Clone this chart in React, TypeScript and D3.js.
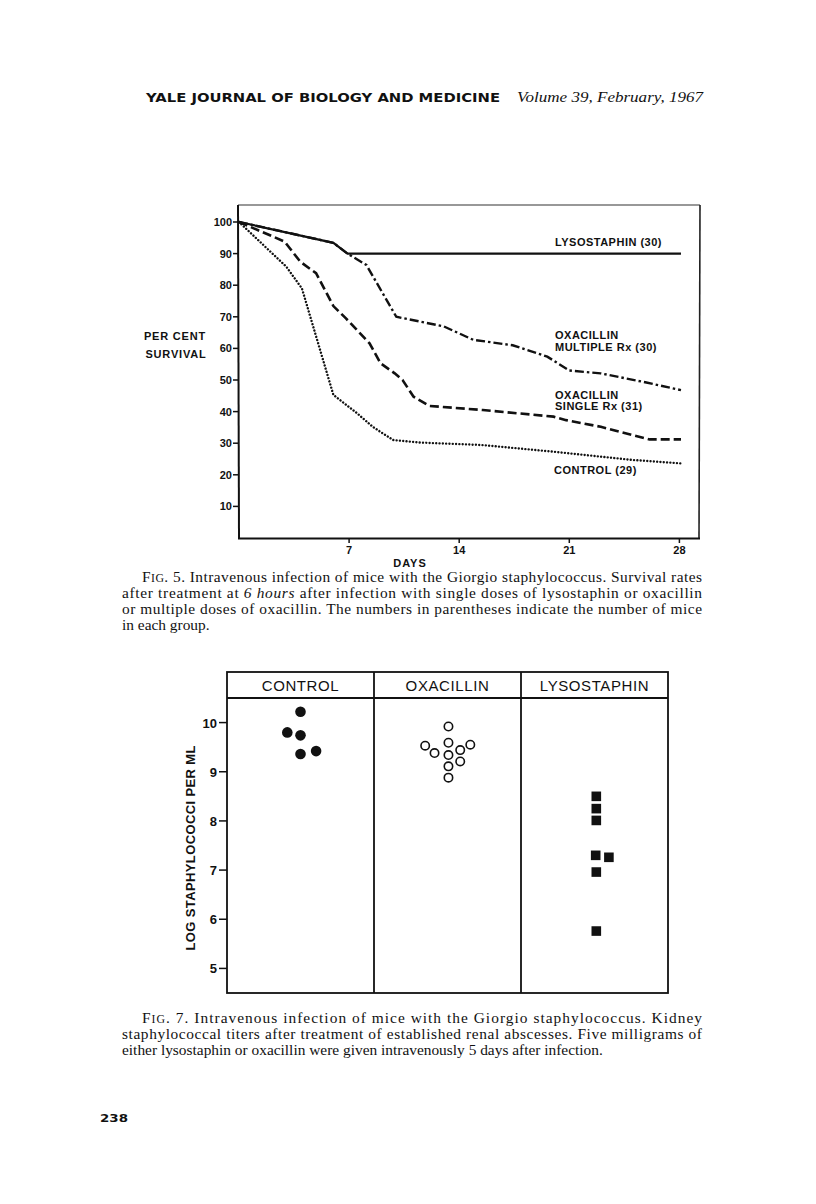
import React from "react";
import * as d3 from "d3";

// ---------- Fig. 5 data (per cent survival vs days) ----------
const xTickDays = [7, 14, 21, 28];
const yTickPct = [10, 20, 30, 40, 50, 60, 70, 80, 90, 100];

const lysoDays = [0, 3.2, 6.0, 6.9, 28.1];
const lysoPct = [100, 96.5, 93.4, 90, 90];

const oxaMultiDays = [0, 3.2, 6.0, 6.9, 8.1, 10.0, 11.5, 13.0, 14.9, 15.8, 17.4, 19.6, 21.0, 23.0, 25.9, 28.1];
const oxaMultiPct = [100, 96.5, 93.4, 90, 86.4, 70, 68.5, 67, 62.7, 62.1, 61, 57.4, 53, 52.1, 49.2, 46.8];

const oxaSingleDays = [0, 2.9, 3.9, 4.9, 6.0, 6.8, 8.3, 9.0, 9.9, 10.4, 11.1, 12.1, 15.5, 20.0, 20.8, 23.0, 25.0, 26.1, 28.1];
const oxaSinglePct = [100, 93.8, 87.4, 83.8, 73.4, 69.5, 61.6, 55.3, 52.1, 50, 44.7, 41.8, 40.5, 38.4, 37.3, 35.2, 32.6, 31.2, 31.2];

const controlDays = [0, 3.0, 4.0, 6.0, 7.5, 8.5, 9.8, 11.5, 15.5, 20.0, 25.0, 28.1];
const controlPct = [100, 85.9, 79, 45.3, 39.5, 35.2, 31, 30.2, 29.4, 27.3, 24.7, 23.6];

// ---------- Fig. 7 data (log staphylococci per ml) ----------
const groups = ["CONTROL", "OXACILLIN", "LYSOSTAPHIN"];
const logTicks = [5, 6, 7, 8, 9, 10];

const controlLog = [10.22, 9.8, 9.74, 9.36, 9.42];
const controlSlot = [0, -1.1, 0, 0, 1.3];

const oxacillinLog = [9.92, 9.53, 9.38, 9.59, 9.34, 9.44, 9.55, 9.21, 9.11, 8.88];
const oxacillinSlot = [0.08, -1.86, -1.08, 0.08, 0.08, 1.06, 1.9, 1.06, 0.08, 0.08];

const lysostaphinLog = [8.5, 8.25, 8.01, 7.3, 7.26, 6.96, 5.76];
const lysostaphinSlot = [0.15, 0.15, 0.15, 0.1, 1.2, 0.15, 0.15];

const SANS = "'Liberation Sans', Arial, sans-serif";
const SERIF = "'Liberation Serif', 'Times New Roman', serif";
const WIDE = "'DejaVu Sans', sans-serif";

export default function App() {
  // Fig 5 scales
  const x = d3.scaleLinear().domain([0, 28]).range([239, 679.4]);
  const y = d3.scaleLinear().domain([0, 100]).range([538, 222]);
  const line = d3
    .line<[number, number]>()
    .x((d) => x(d[0]))
    .y((d) => y(d[1]));
  const zip = (a: number[], b: number[]) => a.map((v, i) => [v, b[i]] as [number, number]);

  // Fig 7 scales
  const band = d3.scaleBand<string>().domain(groups).range([227, 668]).paddingInner(0).paddingOuter(0);
  const yl = d3.scaleLinear().domain([4.5, 10.5]).range([993, 698]);
  const slot = d3.scaleLinear().domain([-1, 1]).range([-12, 12]);
  const cx = (g: string, s: number) => (band(g) as number) + band.bandwidth() / 2 + slot(s);

  const capStyle = { fontFamily: SERIF, fontSize: 15.4, fill: "#111" } as const;

  return (
    <svg
      width={816}
      height={1204}
      viewBox="0 0 816 1204"
      style={{ position: "absolute", left: 0, top: 0, background: "#fff" }}
    >
      <rect x={0} y={0} width={816} height={1204} fill="#fff" />

      {/* Running head */}
      <text x={146} y={102} fontFamily={WIDE} fontWeight={700} fontSize={12} textLength={354} lengthAdjust="spacingAndGlyphs" fill="#111">
        YALE JOURNAL OF BIOLOGY AND MEDICINE
      </text>
      <text x={517} y={102} fontFamily={SERIF} fontStyle="italic" fontSize={15} textLength={186} lengthAdjust="spacingAndGlyphs" fill="#111">
        Volume 39, February, 1967
      </text>

      {/* ---------------- Fig. 5 ---------------- */}
      <g>
        <line x1={238} y1={205} x2={700} y2={205} stroke="#333" strokeWidth={1.2} />
        <line x1={700} y1={205} x2={699} y2={539} stroke="#222" strokeWidth={1.6} />
        <line x1={238} y1={205} x2={239} y2={539} stroke="#111" strokeWidth={2} />
        <line x1={238} y1={538.5} x2={700} y2={538.5} stroke="#111" strokeWidth={2.2} />

        {yTickPct.map((t) => (
          <g key={t}>
            <line x1={233} x2={238} y1={y(t)} y2={y(t)} stroke="#111" strokeWidth={1.5} />
            <text x={232} y={y(t) + 4} textAnchor="end" fontFamily={SANS} fontWeight={700} fontSize={11} fill="#111">
              {t}
            </text>
          </g>
        ))}
        {xTickDays.map((t) => (
          <g key={t}>
            <line x1={x(t)} x2={x(t)} y1={538} y2={543} stroke="#111" strokeWidth={1.5} />
            <text x={x(t)} y={554} textAnchor="middle" fontFamily={SANS} fontWeight={700} fontSize={11} fill="#111">
              {t}
            </text>
          </g>
        ))}
        <text x={410} y={567} textAnchor="middle" fontFamily={SANS} fontWeight={700} fontSize={11} letterSpacing={1} fill="#111">
          DAYS
        </text>
        <text x={175} y={340} textAnchor="middle" fontFamily={SANS} fontWeight={700} fontSize={11} letterSpacing={0.8} fill="#111">
          PER CENT
        </text>
        <text x={176} y={358} textAnchor="middle" fontFamily={SANS} fontWeight={700} fontSize={11} letterSpacing={0.8} fill="#111">
          SURVIVAL
        </text>

        <path d={line(zip(controlDays, controlPct)) || ""} fill="none" stroke="#111" strokeWidth={2.4} strokeDasharray="0.01 3.3" strokeLinecap="round" />
        <path d={line(zip(oxaSingleDays, oxaSinglePct)) || ""} fill="none" stroke="#111" strokeWidth={2.6} strokeDasharray="9 4" />
        <path d={line(zip(oxaMultiDays, oxaMultiPct)) || ""} fill="none" stroke="#111" strokeWidth={2.4} strokeDasharray="9 3 2.5 3" />
        <path d={line(zip(lysoDays, lysoPct)) || ""} fill="none" stroke="#111" strokeWidth={2.2} />

        <g fontFamily={SANS} fontWeight={700} fontSize={11} fill="#111" letterSpacing={0.5}>
          <text x={555} y={246}>LYSOSTAPHIN (30)</text>
          <text x={555} y={339}>OXACILLIN</text>
          <text x={555} y={351}>MULTIPLE Rx (30)</text>
          <text x={555} y={399}>OXACILLIN</text>
          <text x={555} y={410}>SINGLE Rx (31)</text>
          <text x={554} y={474}>CONTROL (29)</text>
        </g>
      </g>

      {/* Caption Fig. 5 */}
      <g style={capStyle}>
        <text x={142} y={582} textLength={560} lengthAdjust="spacing">
          F<tspan fontSize={11.8}>IG</tspan>. 5. Intravenous infection of mice with the Giorgio staphylococcus. Survival rates
        </text>
        <text x={122} y={598} textLength={580} lengthAdjust="spacing">
          after treatment at <tspan fontStyle="italic">6 hours</tspan> after infection with single doses of lysostaphin or oxacillin
        </text>
        <text x={122} y={614} textLength={580} lengthAdjust="spacing">
          or multiple doses of oxacillin. The numbers in parentheses indicate the number of mice
        </text>
        <text x={122} y={630}>in each group.</text>
      </g>

      {/* ---------------- Fig. 7 ---------------- */}
      <g>
        <rect x={227} y={672} width={441} height={321} fill="none" stroke="#111" strokeWidth={1.8} />
        <line x1={227} x2={668} y1={698} y2={698} stroke="#111" strokeWidth={1.8} />
        {groups.slice(1).map((g) => (
          <line key={g} x1={band(g) as number} x2={band(g) as number} y1={672} y2={993} stroke="#111" strokeWidth={1.8} />
        ))}
        {groups.map((g) => (
          <text
            key={g}
            x={(band(g) as number) + band.bandwidth() / 2}
            y={691}
            textAnchor="middle"
            fontFamily={SANS}
            fontSize={15}
            letterSpacing={0.6}
            fill="#111"
          >
            {g}
          </text>
        ))}

        {logTicks.map((t) => (
          <g key={t}>
            <line x1={219} x2={227} y1={yl(t)} y2={yl(t)} stroke="#111" strokeWidth={1.5} />
            <text x={217} y={yl(t) + 5} textAnchor="end" fontFamily={SANS} fontWeight={700} fontSize={13} fill="#111">
              {t}
            </text>
          </g>
        ))}
        <text
          transform={`translate(195,848) rotate(-90)`}
          textAnchor="middle"
          fontFamily={SANS}
          fontWeight={700}
          fontSize={13}
          textLength={205}
          lengthAdjust="spacing"
          fill="#111"
        >
          LOG STAPHYLOCOCCI PER ML
        </text>

        {controlLog.map((v, i) => (
          <circle key={"c" + i} cx={cx("CONTROL", controlSlot[i])} cy={yl(v)} r={5.3} fill="#111" />
        ))}
        {oxacillinLog.map((v, i) => (
          <circle key={"o" + i} cx={cx("OXACILLIN", oxacillinSlot[i])} cy={yl(v)} r={4.2} fill="#fff" stroke="#111" strokeWidth={1.6} />
        ))}
        {lysostaphinLog.map((v, i) => (
          <rect
            key={"l" + i}
            x={cx("LYSOSTAPHIN", lysostaphinSlot[i]) - 4.8}
            y={yl(v) - 4.8}
            width={9.6}
            height={9.6}
            fill="#111"
          />
        ))}
      </g>

      {/* Caption Fig. 7 */}
      <g style={capStyle}>
        <text x={142} y={1023} textLength={560} lengthAdjust="spacing">
          F<tspan fontSize={11.8}>IG</tspan>. 7. Intravenous infection of mice with the Giorgio staphylococcus. Kidney
        </text>
        <text x={122} y={1039} textLength={580} lengthAdjust="spacing">
          staphylococcal titers after treatment of established renal abscesses. Five milligrams of
        </text>
        <text x={122} y={1055}>either lysostaphin or oxacillin were given intravenously 5 days after infection.</text>
      </g>

      {/* Page number */}
      <text x={100} y={1122} fontFamily={WIDE} fontWeight={700} fontSize={11} textLength={28} lengthAdjust="spacingAndGlyphs" fill="#111">
        238
      </text>
    </svg>
  );
}
